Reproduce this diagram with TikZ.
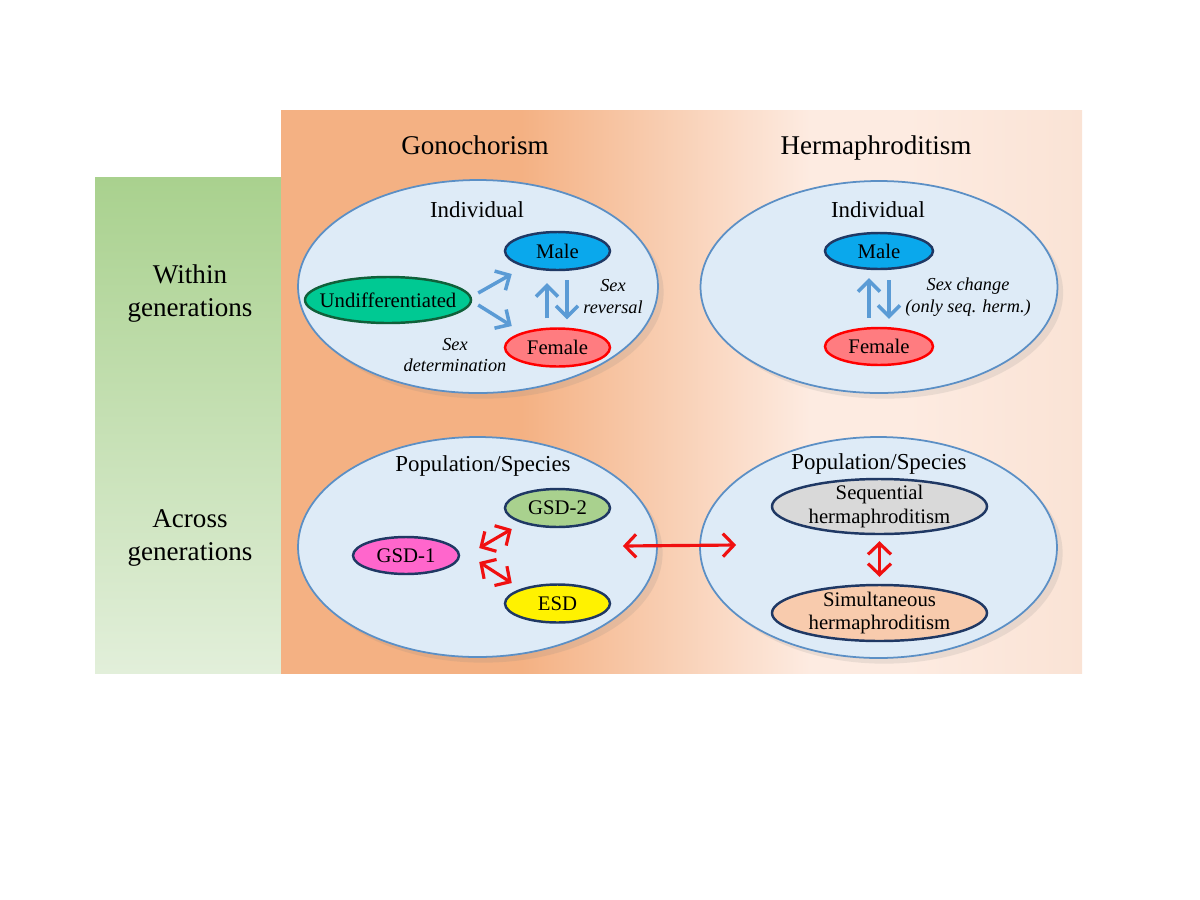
\documentclass[tikz,border=0pt]{standalone}
\usepackage{fontspec}
\setmainfont{Liberation Serif}
\usetikzlibrary{arrows.meta}
\usetikzlibrary{shapes.geometric}
\usetikzlibrary{shadows}

\definecolor{orangeL}{HTML}{F4B183}
\definecolor{orangeP}{HTML}{FDEBE1}
\definecolor{orangeR}{HTML}{FAE3D5}
\definecolor{greenT}{HTML}{A9D18E}
\definecolor{greenB}{HTML}{E2EFDA}
\definecolor{blobfill}{HTML}{DEEBF7}
\definecolor{blobline}{HTML}{5B8FC5}
\definecolor{navy}{HTML}{1F3864}
\definecolor{darkgreen}{HTML}{10603A}
\definecolor{maleblue}{HTML}{0AA8EC}
\definecolor{undiffgreen}{HTML}{00C993}
\definecolor{femalered}{HTML}{FF7C80}
\definecolor{gsdgreen}{HTML}{A9D18E}
\definecolor{gsdpink}{HTML}{FF66CC}
\definecolor{seqgray}{HTML}{D9D9D9}
\definecolor{simpeach}{HTML}{F8CBAD}
\definecolor{arrblue}{HTML}{5B9BD5}
\definecolor{arrred}{HTML}{F01010}

% background fade of the two columns
\pgfdeclarehorizontalshading{orangefade}{100bp}{color(0bp)=(orangeL); color(40bp)=(orangeL); color(58bp)=(orangeP); color(64bp)=(orangeP); color(75bp)=(orangeR); color(100bp)=(orangeR)}

\begin{document}
\begin{tikzpicture}[x=1cm,y=-1cm,
    blob/.style={ellipse,draw=blobline,fill=blobfill,line width=0.5pt,inner sep=0pt,
        drop shadow={shadow xshift=0.35ex,shadow yshift=-0.35ex,opacity=0.15}},
    pill/.style={ellipse,draw=navy,line width=0.7pt,inner sep=0pt,minimum width=1.05cm,
        minimum height=0.38cm,label={[pilltext]center:#1}},
    pilltext/.style={font=\fontsize{5.9}{6.8}\selectfont,align=center},
    head/.style={font=\fontsize{7.7}{9.4}\selectfont,align=center},
    sub/.style={font=\fontsize{6.5}{7.5}\selectfont},
    note/.style={font=\fontsize{5.2}{6.2}\selectfont\itshape,align=center},
    bluearr/.style={draw=arrblue,line width=1pt,-{Straight Barb[length=1.1mm,width=2.2mm]}},
    redarr/.style={draw=arrred,line width=0.9pt,
        {Straight Barb[length=1.1mm,width=2.3mm]}-{Straight Barb[length=1.1mm,width=2.3mm]}}]
    \useasboundingbox (0,0) rectangle (12,9);
    \shade[top color=greenT,bottom color=greenB] (0.95,1.77) rectangle (2.81,6.73);
    \shade[shading=orangefade] (2.81,1.10) rectangle (10.82,6.73);

    \node[head,anchor=base] (gono) at (4.75,1.545) {Gonochorism};
    \node[head,anchor=base] (herm) at (8.76,1.545) {Hermaphroditism};
    \node[head] (within) at (1.90,2.94) {Within\\generations};
    \node[head] (across) at (1.90,5.38) {Across\\generations};

    % the four big ellipses
    \node[blob,minimum width=3.6cm,minimum height=2.13cm] (indL) at (4.78,2.865) {};
    \node[blob,minimum width=3.57cm,minimum height=2.12cm] (indR) at (8.79,2.87) {};
    \node[blob,minimum width=3.59cm,minimum height=2.2cm] (popL) at (4.775,5.47) {};
    \node[blob,minimum width=3.57cm,minimum height=2.21cm] (popR) at (8.785,5.475) {};

    \node[sub] (indLt) at (4.77,2.10) {Individual};
    \node[sub] (indRt) at (8.78,2.10) {Individual};
    \node[sub] (popLt) at (4.83,4.655) {Population/Species};
    \node[sub] (popRt) at (8.79,4.635) {Population/Species};

    % gonochorism, individual
    \node[pill=Male,fill=maleblue] (maleL) at (5.575,2.51) {};
    \node[pill=Undifferentiated,fill=undiffgreen,draw=darkgreen,minimum width=1.66cm,minimum height=0.46cm] (undiff) at (3.88,3.0) {};
    \node[pill=Female,fill=femalered,draw=red] (femaleL) at (5.575,3.475) {};
    \node[note] (rev) at (6.13,2.965) {Sex\\reversal};
    \node[note] (det) at (4.55,3.55) {Sex\\determination};
    \draw[bluearr] ([shift={(0.06,-0.07)}]undiff.east) -- ([shift={(0.08,0.23)}]maleL.west);
    \draw[bluearr] ([shift={(0.06,0.05)}]undiff.east) -- ([shift={(0.08,-0.215)}]femaleL.west);
    \draw[bluearr] ([shift={(-0.105,-0.09)}]femaleL.north) -- ([shift={(-0.105,0.12)}]maleL.south);
    \draw[bluearr] ([shift={(0.095,0.09)}]maleL.south) -- ([shift={(0.095,-0.08)}]femaleL.north);

    % hermaphroditism, individual
    \node[pill=Male,fill=maleblue,minimum width=1.08cm,minimum height=0.36cm] (maleR) at (8.79,2.51) {};
    \node[pill=Female,fill=femalered,draw=red,minimum width=1.08cm,minimum height=0.37cm] (femaleR) at (8.79,3.465) {};
    \node[note] (chg) at (9.68,2.97) {Sex change\\(only seq. herm.)};
    \draw[bluearr] ([shift={(-0.10,-0.09)}]femaleR.north) -- ([shift={(-0.10,0.08)}]maleR.south);
    \draw[bluearr] ([shift={(0.10,0.10)}]maleR.south) -- ([shift={(0.10,-0.08)}]femaleR.north);

    % population level
    \node[pill=GSD-2,fill=gsdgreen] (gsd2) at (5.575,5.08) {};
    \node[pill=GSD-1,fill=gsdpink,minimum width=1.06cm,minimum height=0.37cm] (gsd1) at (4.06,5.555) {};
    \node[pill=ESD,fill=yellow] (esd) at (5.575,6.035) {};
    \node[pill={Sequential\\hermaphroditism},fill=seqgray,minimum width=2.15cm,minimum height=0.55cm] (seq) at (8.795,5.065) {};
    \node[pill={Simultaneous\\hermaphroditism},fill=simpeach,minimum width=2.15cm,minimum height=0.56cm] (sim) at (8.795,6.13) {};
    \draw[redarr] ([shift={(0.19,-0.075)}]gsd1.east) -- ([shift={(0.08,0.21)}]gsd2.west);
    \draw[redarr] ([shift={(0.19,0.065)}]gsd1.east) -- ([shift={(0.08,-0.205)}]esd.west);
    \draw[redarr] ([shift={(-0.35,-0.01)}]popL.east) -- ([shift={(0.37,-0.025)}]popR.west);
    \draw[redarr] ([shift={(0,0.06)}]seq.south) -- ([shift={(0,-0.07)}]sim.north);
\end{tikzpicture}
\end{document}
